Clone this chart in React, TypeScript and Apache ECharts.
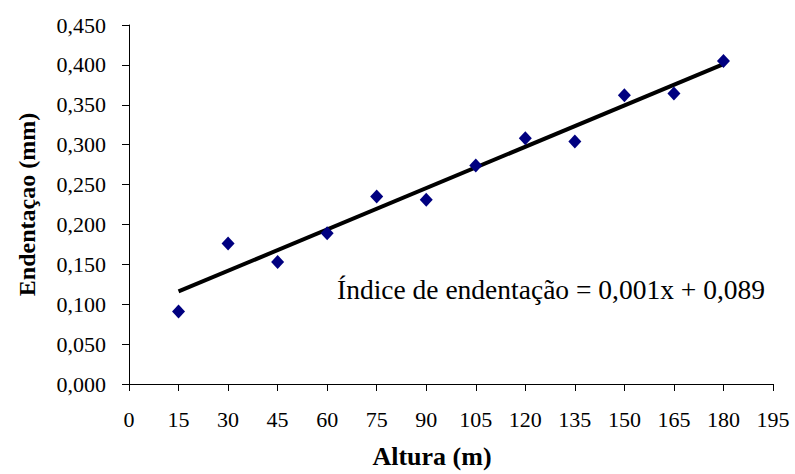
import React, { useEffect, useRef } from "react";
import * as echarts from "echarts";

const alturas = [15, 30, 45, 60, 75, 90, 105, 120, 135, 150, 165, 180];
const endentacao = [0.091, 0.176, 0.153, 0.189, 0.235, 0.231, 0.274, 0.308, 0.304, 0.362, 0.364, 0.405];
const trendX = [15, 180];
const trendY = [0.116, 0.401];
const equationText = "Índice de endentação = 0,001x + 0,089";
const xTitle = "Altura (m)";
const yTitle = "Endentaçao (mm)";

const FONT = "Liberation Serif";

export default function App() {
  const ref = useRef<HTMLDivElement>(null);
  useEffect(() => {
    if (!ref.current) return;
    const chart = echarts.init(ref.current, null, { renderer: "svg", width: 795, height: 474 });
    chart.setOption({
      animation: false,
      backgroundColor: "#ffffff",
      textStyle: { fontFamily: FONT },
      grid: { left: 129, right: 22, top: 25, bottom: 82, containLabel: false },
      xAxis: {
        type: "value",
        min: 0,
        max: 195,
        interval: 15,
        name: xTitle,
        nameLocation: "middle",
        nameGap: 59,
        nameTextStyle: { fontFamily: FONT, fontSize: 26, fontWeight: "bold", color: "#000", padding: [0, 38, 0, 0] },
        axisLine: { lineStyle: { color: "#000", width: 1 } },
        axisTick: { show: true, inside: false, length: 7, lineStyle: { color: "#000" } },
        axisLabel: { fontFamily: FONT, fontSize: 22, color: "#000", margin: 24 },
        splitLine: { show: false },
      },
      yAxis: {
        type: "value",
        min: 0,
        max: 0.45,
        interval: 0.05,
        name: yTitle,
        nameLocation: "middle",
        nameGap: 90,
        nameRotate: 90,
        nameTextStyle: { fontFamily: FONT, fontSize: 24, fontWeight: "bold", color: "#000" },
        axisLine: { show: true, lineStyle: { color: "#000", width: 1 } },
        axisTick: { show: true, inside: false, length: 7, lineStyle: { color: "#000" } },
        axisLabel: {
          fontFamily: FONT,
          fontSize: 22,
          color: "#000",
          margin: 23,
          formatter: (v: number) => v.toFixed(3).replace(".", ","),
        },
        splitLine: { show: false },
      },
      graphic: [
        {
          type: "text",
          left: 337,
          top: 275,
          style: { text: equationText, fontFamily: FONT, fontSize: 27.5, fill: "#000" },
        },
      ],
      series: [
        {
          type: "line",
          data: trendX.map((x, i) => [x, trendY[i]]),
          symbol: "none",
          lineStyle: { color: "#000", width: 4 },
          z: 2,
        },
        {
          type: "scatter",
          data: alturas.map((x, i) => [x, endentacao[i]]),
          symbol: "diamond",
          symbolSize: [13, 14],
          itemStyle: { color: "#000080", opacity: 1 },
          z: 3,
        },
      ],
    });
    return () => chart.dispose();
  }, []);
  return (
    <div
      ref={ref}
      style={{ position: "fixed", left: 0, top: 0, width: 795, height: 474, background: "#fff" }}
    />
  );
}
